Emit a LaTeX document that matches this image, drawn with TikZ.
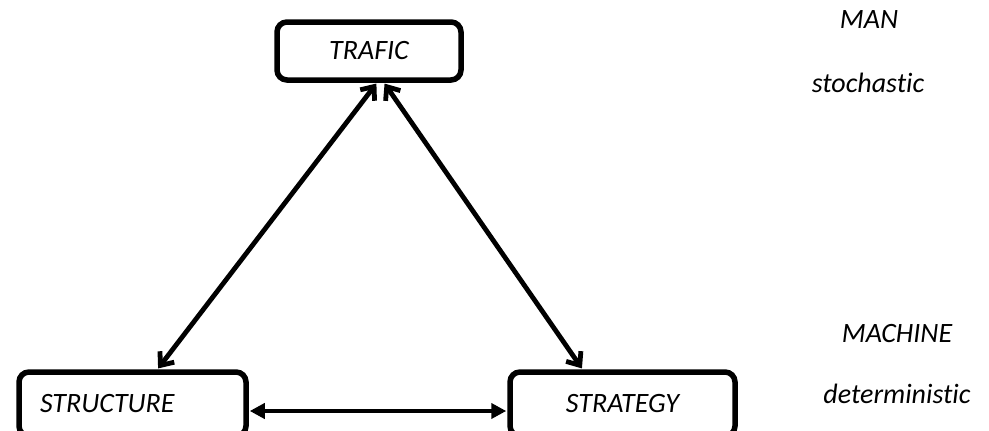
\documentclass[tikz,border=0pt]{standalone}
\usepackage{fontspec}
\setmainfont{Carlito}[Ligatures=NoCommon]
\usetikzlibrary{arrows.meta}
\begin{document}
\begin{tikzpicture}[x=1pt,y=-1pt,
  box/.style={draw=black, line width=5.5pt, rounded corners=10pt, fill=white,
    font=\fontsize{28}{34}\selectfont\itshape, inner sep=0pt},
  lbl/.style={font=\fontsize{28}{34}\selectfont\itshape, anchor=base, inner sep=0pt},
  diag/.style={line width=4.8pt, {Straight Barb[length=11pt,width=18pt]}-{Straight Barb[length=11pt,width=18pt]}, shorten <=1pt, shorten >=1pt},
  horiz/.style={line width=4.6pt, {Triangle[length=15pt,width=15pt]}-{Triangle[length=15pt,width=15pt]}, shorten <=1pt, shorten >=1pt}]
\useasboundingbox (0,0) rectangle (989,431);
\node[box, minimum width=184pt, minimum height=58pt] (trafic) at (369,51) {TRAFIC};
\node[box, minimum width=227pt, minimum height=64pt, text width=185pt, align=left, inner xsep=21pt] (structure) at (132.5,404) {STRUCTURE};
\node[box, minimum width=225pt, minimum height=64pt] (strategy) at (622.5,404) {STRATEGY};
\draw[diag] ([xshift=8pt]trafic.south) -- ([xshift=25pt]structure.north);
\draw[diag] ([xshift=15pt]trafic.south) -- ([xshift=-40pt]strategy.north);
\draw[horiz] ([yshift=-7pt]structure.east) -- ([yshift=-7pt]strategy.west);
\node[lbl] (man) at (869,28) {MAN};
\node[lbl] (stoch) at (868,92) {stochastic};
\node[lbl] (machine) at (897,342) {MACHINE};
\node[lbl] (determ) at (897,403) {deterministic};
\end{tikzpicture}
\end{document}
